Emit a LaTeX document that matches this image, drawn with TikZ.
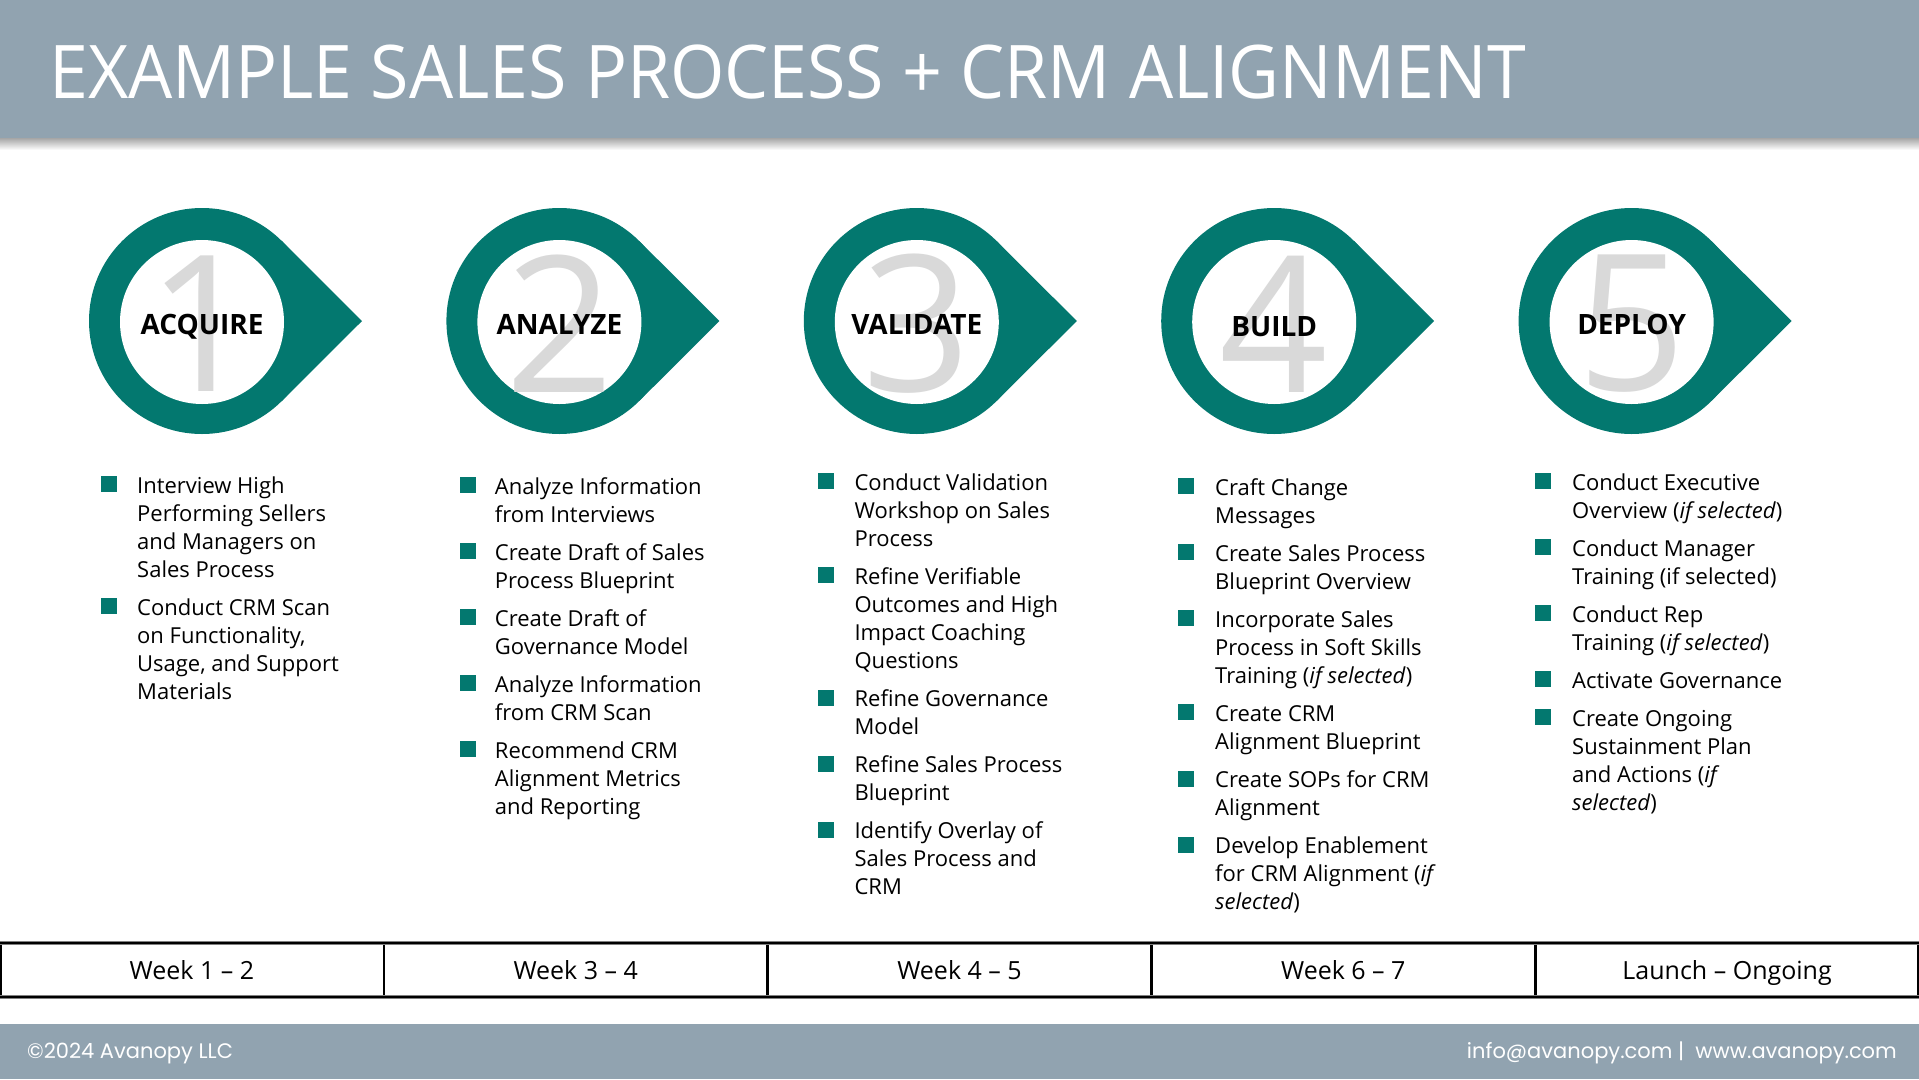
\documentclass[tikz,border=0pt]{standalone}
\usepackage{fontspec}
\setmainfont{Open Sans}
\newfontfamily\footfont{Poppins}
\newfontfamily\titlefont[FakeStretch=0.944]{Open Sans}
\definecolor{hdr}{HTML}{91A3B0}
\definecolor{tealc}{HTML}{03786F}
\definecolor{numgray}{HTML}{D9D9D9}
\newcommand{\fsz}[2]{\fontsize{#1}{#2}\selectfont}
\tikzset{
  itemtxt/.style={anchor=base west, inner sep=0pt, font=\fsz{22}{28.1}},
  steplabel/.style={inner sep=0pt, text height=20pt, text depth=0pt, font=\fsz{28}{32}\bfseries, text=black},
  bignum/.style={inner sep=0pt, font=\fsz{190}{190}, text=numgray},
  cell/.style={inner sep=0pt, minimum width=383.8pt, minimum height=54pt, text height=18pt, text depth=0pt, font=\fsz{25}{30}},
  foot/.style={inner sep=0pt, text=white, font=\footfont\fsz{21}{25}},
}
% name, bullet x, text x, baseline y, text
\newcommand{\bitem}[5]{%
  \fill[tealc] (#2,#4-17) rectangle (#2+16,#4-1);
  \node[itemtxt] (#1) at (#3,#4) {\parbox[t]{330pt}{\raggedright #5}};
}
% name, center x, digit, label, label y
\newcommand{\stepdrop}[5]{%
  \fill[tealc] (#2,321) circle[radius=113pt];
  \fill[tealc] (#2,321) -- (#2+79.9,321-79.9) -- (#2+160,321) -- (#2+79.9,321+79.9) -- cycle;
  \fill[white] (#2,322) circle[radius=82pt];
  \node[bignum] (#1n) at (#2,324) {#3};
  \node[steplabel] (#1) at (#2,#5) {#4};
}
\begin{document}
\begin{tikzpicture}[x=1pt,y=-1pt]
\useasboundingbox (0,0) rectangle (1919,1079);
\fill[white] (0,0) rectangle (1919,1079);
% header
\shade[top color=black!35, bottom color=white] (0,138) rectangle (1919,150);
\fill[hdr] (0,0) rectangle (1919,138);
\node[anchor=base west, inner sep=0pt, text=white, font=\titlefont\fsz{74}{80}] (title) at (49,98) {EXAMPLE SALES PROCESS + CRM ALIGNMENT};
% steps
\stepdrop{s1}{202}{1}{ACQUIRE}{324}
\stepdrop{s2}{559.4}{2}{ANALYZE}{324}
\stepdrop{s3}{916.8}{3}{VALIDATE}{324}
\stepdrop{s4}{1274.2}{4}{BUILD}{326}
\stepdrop{s5}{1631.6}{5}{DEPLOY}{324}
% column 1
\bitem{a1}{101}{137}{493}{Interview High\\Performing Sellers\\and Managers on\\Sales Process}
\bitem{a2}{101}{137}{615.3}{Conduct CRM Scan\\on Functionality,\\Usage, and Support\\Materials}
% column 2
\bitem{b1}{459.5}{494.7}{494}{Analyze Information\\from Interviews}
\bitem{b2}{459.5}{494.7}{560.1}{Create Draft of Sales\\Process Blueprint}
\bitem{b3}{459.5}{494.7}{626.2}{Create Draft of\\Governance Model}
\bitem{b4}{459.5}{494.7}{692.3}{Analyze Information\\from CRM Scan}
\bitem{b5}{459.5}{494.7}{758.4}{Recommend CRM\\Alignment Metrics\\and Reporting}
% column 3
\bitem{c1}{818}{854.4}{490}{Conduct Validation\\Workshop on Sales\\Process}
\bitem{c2}{818}{854.4}{584.2}{Refine Verifiable\\Outcomes and High\\Impact Coaching\\Questions}
\bitem{c3}{818}{854.4}{706.5}{Refine Governance\\Model}
\bitem{c4}{818}{854.4}{772.6}{Refine Sales Process\\Blueprint}
\bitem{c5}{818}{854.4}{838.7}{Identify Overlay of\\Sales Process and\\CRM}
% column 4
\bitem{d1}{1178}{1215}{495}{Craft Change\\Messages}
\bitem{d2}{1178}{1215}{561.1}{Create Sales Process\\Blueprint Overview}
\bitem{d3}{1178}{1215}{627.2}{Incorporate Sales\\Process in Soft Skills\\Training (\textit{if selected})}
\bitem{d4}{1178}{1215}{721.4}{Create CRM\\Alignment Blueprint}
\bitem{d5}{1178}{1215}{787.5}{Create SOPs for CRM\\Alignment}
\bitem{d6}{1178}{1215}{853.6}{Develop Enablement\\for CRM Alignment (\textit{if}\\\textit{selected})}
% column 5
\bitem{e1}{1535}{1572}{490}{Conduct Executive\\Overview (\textit{if selected})}
\bitem{e2}{1535}{1572}{556.1}{Conduct Manager\\Training (if selected)}
\bitem{e3}{1535}{1572}{622.2}{Conduct Rep\\Training (\textit{if selected})}
\bitem{e4}{1535}{1572}{688.3}{Activate Governance}
\bitem{e5}{1535}{1572}{726.3}{Create Ongoing\\Sustainment Plan\\and Actions (\textit{if}\\\textit{selected})}
% timeline table
\node[cell] (w1) at (191.9,970) {Week 1 – 2};
\node[cell] (w2) at (575.7,970) {Week 3 – 4};
\node[cell] (w3) at (959.5,970) {Week 4 – 5};
\node[cell] (w4) at (1343.3,970) {Week 6 – 7};
\node[cell] (w5) at (1727.1,970) {Launch – Ongoing};
\foreach \xx in {1,383.8,767.6,1151.4,1535.2,1918}
  \draw[line width=2.6pt, black] (\xx,943) -- (\xx,997);
\foreach \yy in {943,997} {
  \draw[line width=3.6pt, black!50] (0,\yy) -- (1919,\yy);
  \draw[line width=1.4pt, black] (0,\yy) -- (1919,\yy);
}
% footer
\fill[hdr] (0,1024) rectangle (1919,1079);
\node[foot, anchor=base west] (copy) at (27,1058) {©2024 Avanopy LLC};
\node[foot, anchor=base east] (web) at (1897,1058) {info@avanopy.com |~ www.avanopy.com};
\end{tikzpicture}
\end{document}
